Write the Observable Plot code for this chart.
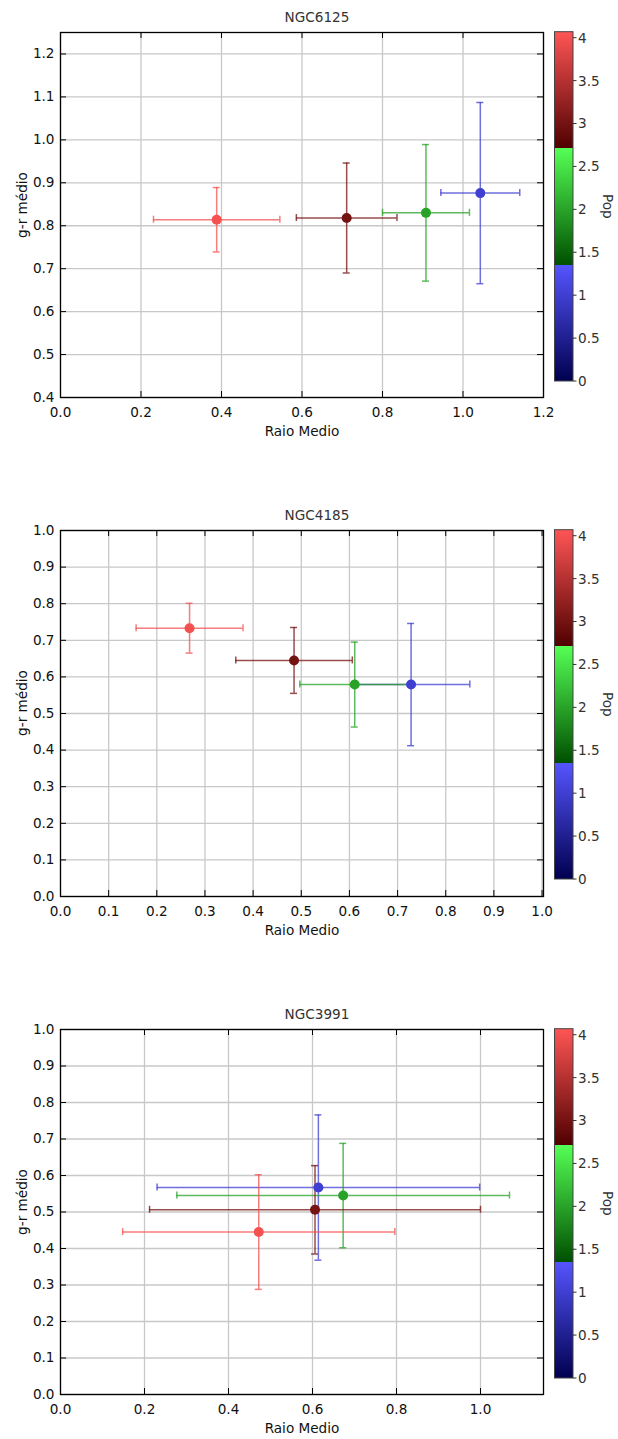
<!DOCTYPE html>
<html><head><meta charset="utf-8">
<script src="https://cdn.jsdelivr.net/npm/d3@7"></script>
<script src="https://cdn.jsdelivr.net/npm/@observablehq/plot@0.6"></script>
<style>
body{margin:0;overflow:hidden;background:#fff}
#charts svg{display:block}
</style>
</head><body><div id="charts"></div>
<script>
// ---------- data ----------
const titles = ["NGC6125", "NGC4185", "NGC3991"];
const pops = [1, 2, 3, 4];
const raio = [[1.043, 0.908, 0.711, 0.388], [0.728, 0.611, 0.485, 0.268], [0.614, 0.673, 0.606, 0.472]];
const raioErr = [[0.098, 0.108, 0.125, 0.157], [0.122, 0.114, 0.121, 0.111], [0.384, 0.396, 0.394, 0.324]];
const gr = [[0.876, 0.830, 0.818, 0.814], [0.579, 0.579, 0.645, 0.733], [0.567, 0.545, 0.506, 0.445]];
const grErr = [[0.211, 0.159, 0.128, 0.075], [0.167, 0.116, 0.090, 0.068], [0.199, 0.143, 0.121, 0.157]];
const xDomains = [[0, 1.2], [0, 1.003], [0, 1.15]];
const yDomains = [[0.4, 1.25], [0, 1.0], [0, 1.0]];
const xTicks = [
  [0, 0.2, 0.4, 0.6, 0.8, 1.0, 1.2],
  [0, 0.1, 0.2, 0.3, 0.4, 0.5, 0.6, 0.7, 0.8, 0.9, 1.0],
  [0, 0.2, 0.4, 0.6, 0.8, 1.0]
];
const yTicks = [
  [0.4, 0.5, 0.6, 0.7, 0.8, 0.9, 1.0, 1.1, 1.2],
  [0, 0.1, 0.2, 0.3, 0.4, 0.5, 0.6, 0.7, 0.8, 0.9, 1.0],
  [0, 0.1, 0.2, 0.3, 0.4, 0.5, 0.6, 0.7, 0.8, 0.9, 1.0]
];
const popMax = 4.07;
const popTicks = [0, 0.5, 1, 1.5, 2, 2.5, 3, 3.5, 4];
const cmapColors = ["#000050", "#5555ff", "#005000", "#55ff55", "#500000", "#ff5555"];
const xLabel = "Raio Medio";
const yLabel = "g-r médio";
const cLabel = "Pop";

// ---------- layout ----------
const W = 618;
const heights = [498, 499, 498];
const mL = 60, mR = 75, mT = 32, mB = 101;
const FONT = "DejaVu Sans";
const FS = 13.6;

const t3 = popMax / 3, eps = 1e-6;
const cmapDomain = [0, t3, t3 + eps, 2 * t3, 2 * t3 + eps, popMax];

const container = document.getElementById("charts");

titles.forEach((title, p) => {
  const H = heights[p];
  const fw = W - mL - mR, fh = H - mT - mB;
  const data = pops.map((pop, i) => ({pop, x: raio[p][i], xe: raioErr[p][i], y: gr[p][i], ye: grErr[p][i]}));
  const barStyle = {stroke: "pop", strokeWidth: 1.5, strokeOpacity: 0.75};
  const barMarks = [];
  for (const d of data) {
    const one = [d];
    barMarks.push(
      Plot.ruleY(one, {y: "y", x1: (d) => d.x - d.xe, x2: (d) => d.x + d.xe, ...barStyle}),
      Plot.ruleX(one, {x: "x", y1: (d) => d.y - d.ye, y2: (d) => d.y + d.ye, ...barStyle}),
      Plot.ruleX(one, {x: (d) => d.x - d.xe, y1: "y", y2: "y", insetTop: -3.5, insetBottom: -3.5, ...barStyle}),
      Plot.ruleX(one, {x: (d) => d.x + d.xe, y1: "y", y2: "y", insetTop: -3.5, insetBottom: -3.5, ...barStyle}),
      Plot.ruleY(one, {y: (d) => d.y - d.ye, x1: "x", x2: "x", insetLeft: -3.5, insetRight: -3.5, ...barStyle}),
      Plot.ruleY(one, {y: (d) => d.y + d.ye, x1: "x", x2: "x", insetLeft: -3.5, insetRight: -3.5, ...barStyle})
    );
  }
  const tickStyle = {stroke: "#000", strokeWidth: 1};
  const svg = Plot.plot({
    width: W, height: H,
    marginLeft: mL, marginRight: mR, marginTop: mT, marginBottom: mB,
    style: {fontFamily: FONT, fontSize: FS + "px", color: "#111", background: "#fff", overflow: "visible"},
    x: {domain: xDomains[p]},
    y: {domain: yDomains[p]},
    color: {type: "linear", domain: cmapDomain, range: cmapColors, interpolate: "rgb"},
    marks: [
      Plot.gridX(xTicks[p], {stroke: "#c8c8c8", strokeOpacity: 1, strokeWidth: 1.3}),
      Plot.gridY(yTicks[p], {stroke: "#c8c8c8", strokeOpacity: 1, strokeWidth: 1.3}),
      ...barMarks,
      Plot.dot(data, {x: "x", y: "y", r: 5, fill: "pop", stroke: null}),
      // inward ticks on all four sides
      Plot.ruleX(xTicks[p], {x: (d) => d, insetTop: fh - 6, ...tickStyle}),
      Plot.ruleX(xTicks[p], {x: (d) => d, insetBottom: fh - 6, ...tickStyle}),
      Plot.ruleY(yTicks[p], {y: (d) => d, insetRight: fw - 6, ...tickStyle}),
      Plot.ruleY(yTicks[p], {y: (d) => d, insetLeft: fw - 6, ...tickStyle}),
      Plot.frame({stroke: "#000", strokeWidth: 1.3}),
      Plot.axisX(xTicks[p], {anchor: "bottom", tickSize: 0, tickPadding: 10, tickFormat: d3.format(".1f"), label: null, fontSize: FS}),
      Plot.axisY(yTicks[p], {anchor: "left", tickSize: 0, tickPadding: 6, tickFormat: d3.format(".1f"), label: null, fontSize: FS}),
      Plot.text([xLabel], {frameAnchor: "bottom", dy: 34, lineAnchor: "middle", fill: "#111", fontSize: FS}),
      Plot.text([title], {frameAnchor: "top", dx: 15, dy: -15, lineAnchor: "middle", fill: "#333", fontSize: FS})
    ]
  });

  const s = d3.select(svg);
  // y-axis label
  s.append("text").attr("transform", "translate(22,205) rotate(-90)")
    .attr("text-anchor", "middle").attr("dy", "0.36em")
    .attr("font-family", FONT).attr("font-size", FS).attr("fill", "#111").text(yLabel);

  // colorbar (legend) built from the same colour map
  const cx0 = 554.5, cw = 18.5, cy0 = 31.7, cy1 = 381;
  const cs = d3.scaleLinear([0, popMax], [cy1, cy0]);
  const gid = "cbar" + p;
  const grad = s.append("defs").append("linearGradient")
    .attr("id", gid).attr("x1", 0).attr("y1", 1).attr("x2", 0).attr("y2", 0);
  for (let k = 0; k < 3; k++) {
    grad.append("stop").attr("offset", k / 3).attr("stop-color", cmapColors[2 * k]);
    grad.append("stop").attr("offset", (k + 1) / 3).attr("stop-color", cmapColors[2 * k + 1]);
  }
  s.append("rect").attr("x", cx0).attr("y", cy0).attr("width", cw).attr("height", cy1 - cy0)
    .attr("fill", `url(#${gid})`).attr("stroke", "#444").attr("stroke-width", 1);
  const tg = s.append("g").attr("font-family", FONT).attr("font-size", FS).attr("fill", "#333")
    .attr("text-anchor", "start");
  popTicks.forEach((v) => {
    tg.append("line").attr("x1", cx0 + cw).attr("x2", cx0 + cw + 3.5)
      .attr("y1", cs(v)).attr("y2", cs(v)).attr("stroke", "#333");
    tg.append("text").attr("x", cx0 + cw + 5).attr("y", cs(v)).attr("dy", "0.36em")
      .attr("text-anchor", "start").text(String(v));
  });
  tg.append("text").attr("transform", `translate(608,${(cy0 + cy1) / 2}) rotate(90)`)
    .attr("text-anchor", "middle").attr("dy", "0.36em").text(cLabel);

  container.appendChild(svg);
});
</script>
</body></html>
